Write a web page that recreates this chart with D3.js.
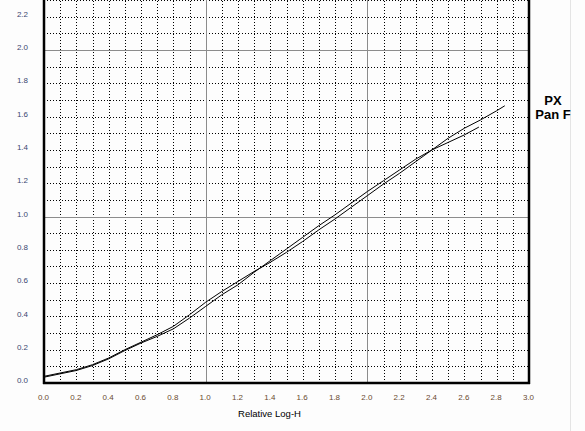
<!DOCTYPE html>
<html>
<head>
<meta charset="utf-8">
<script src="https://cdn.jsdelivr.net/npm/d3@7"></script>
<style>
body { margin: 0; background: #fdfdfd; }
svg { display: block; }
.tick text { font-family: Arial, "Liberation Sans", sans-serif; font-size: 8px; }
.x.labels .tick text { fill: #6a4a30; }
.y.labels .tick text { fill: #3a4670; }
.minor line { stroke: #000; stroke-dasharray: 1,2; shape-rendering: crispEdges; }
.major line { stroke: #8c8c8c; shape-rendering: crispEdges; }
.domain { display: none; }
.curve { fill: none; stroke: #000; stroke-width: 1; }
</style>
</head>
<body>
<svg id="vis-svg" width="585" height="431"></svg>
<script>

// Data
var logH  = [0, 0.1, 0.2, 0.3, 0.4, 0.5, 0.6, 0.7, 0.8, 0.9, 1.0, 1.1, 1.2, 1.3, 1.4, 1.5, 1.6, 1.7, 1.8, 1.9, 2.0, 2.1, 2.2, 2.3, 2.4, 2.5, 2.55, 2.6, 2.7, 2.8, 2.85];
var curveA = [0.04, 0.06, 0.08, 0.11, 0.15, 0.20, 0.245, 0.29, 0.34, 0.41, 0.485, 0.55, 0.61, 0.67, 0.725, 0.785, 0.85, 0.92, 0.985, 1.055, 1.125, 1.195, 1.26, 1.33, 1.40, 1.47, 1.50, 1.53, 1.58, 1.635, 1.665];

var logHB = [0, 0.1, 0.2, 0.3, 0.4, 0.5, 0.6, 0.7, 0.8, 0.9, 1.0, 1.1, 1.2, 1.3, 1.4, 1.5, 1.6, 1.7, 1.8, 1.9, 2.0, 2.1, 2.2, 2.3, 2.4, 2.5, 2.6, 2.69];
var curveB = [0.035, 0.055, 0.075, 0.105, 0.145, 0.195, 0.24, 0.28, 0.325, 0.39, 0.46, 0.53, 0.59, 0.665, 0.735, 0.805, 0.875, 0.945, 1.01, 1.08, 1.15, 1.215, 1.28, 1.345, 1.40, 1.445, 1.49, 1.537];

var xTicks = [0, 0.2, 0.4, 0.6, 0.8, 1.0, 1.2, 1.4, 1.6, 1.8, 2.0, 2.2, 2.4, 2.6, 2.8, 3.0];
var yTicks = [0, 0.2, 0.4, 0.6, 0.8, 1.0, 1.2, 1.4, 1.6, 1.8, 2.0, 2.2];
var majorTicks = [1, 2];
var names = ['PX', 'Pan F'];

var svg = d3.select('#vis-svg');

// Bounds
var plotLeft = 44, plotRight = 529, plotTop = 0, plotBottom = 383;

var x = d3.scaleLinear().domain([0, 3]).range([plotLeft, plotRight]);
var y = d3.scaleLinear().domain([0, 2.3]).range([plotBottom, plotBottom - 2.3 * 166.5]);

var minorX = d3.range(1, 30).map(function(i){ return i / 10; }).filter(function(v){ return Math.abs(v - Math.round(v)) > 0.01; });
var minorY = d3.range(1, 24).map(function(i){ return i / 10; }).filter(function(v){ return Math.abs(v - Math.round(v)) > 0.01; });

// Minor dotted grid
svg.append('g')
  .attr('class', 'minor')
  .attr('transform', 'translate(0,' + plotBottom + ')')
  .call(d3.axisBottom(x).tickValues(minorX).tickSize(-(plotBottom - plotTop)).tickFormat(''));
svg.append('g')
  .attr('class', 'minor')
  .attr('transform', 'translate(' + plotLeft + ',0)')
  .call(d3.axisLeft(y).tickValues(minorY).tickSize(-(plotRight - plotLeft)).tickFormat(''));

// Major grid
svg.append('g')
  .attr('class', 'major')
  .attr('transform', 'translate(0,' + plotBottom + ')')
  .call(d3.axisBottom(x).tickValues(majorTicks).tickSize(-(plotBottom - plotTop)).tickFormat(''));
svg.append('g')
  .attr('class', 'major')
  .attr('transform', 'translate(' + plotLeft + ',0)')
  .call(d3.axisLeft(y).tickValues(majorTicks).tickSize(-(plotRight - plotLeft)).tickFormat(''));

// Tick labels
svg.append('g')
  .attr('class', 'x labels')
  .attr('transform', 'translate(-1,' + plotBottom + ')')
  .call(d3.axisBottom(x).tickValues(xTicks).tickSize(0).tickPadding(11).tickFormat(d3.format('.1f')));
var yAxis = svg.append('g')
  .attr('class', 'y labels')
  .attr('transform', 'translate(' + (plotLeft - 16) + ',0)')
  .call(d3.axisLeft(y).tickValues(yTicks).tickSize(0).tickPadding(0).tickFormat(d3.format('.1f')));
yAxis.selectAll('.tick text').attr('dy', '-0.05em');

// Frame
svg.append('line').attr('x1', plotLeft).attr('x2', plotLeft).attr('y1', 0).attr('y2', plotBottom + 1)
  .attr('stroke', '#000').attr('stroke-width', 2.5);
svg.append('line').attr('x1', plotRight).attr('x2', plotRight).attr('y1', 0).attr('y2', plotBottom + 1)
  .attr('stroke', '#000').attr('stroke-width', 2.5);
svg.append('line').attr('x1', plotLeft - 1).attr('x2', plotRight + 1).attr('y1', plotBottom).attr('y2', plotBottom)
  .attr('stroke', '#000').attr('stroke-width', 2.5);

// window edge
svg.append('line').attr('x1', 570.5).attr('x2', 570.5).attr('y1', 0).attr('y2', 431)
  .attr('stroke', '#e4e4e4');

// Curves
var lineA = d3.line()
  .x(function(d, i){ return x(logH[i]); })
  .y(function(d){ return y(d); });
var lineB = d3.line()
  .x(function(d, i){ return x(logHB[i]); })
  .y(function(d){ return y(d); });

svg.append('path').attr('class', 'curve').attr('d', lineA(curveA));
svg.append('path').attr('class', 'curve').attr('d', lineB(curveB));

// Axis title
svg.append('text')
  .attr('x', (x(0) + x(3)) / 2 - 17)
  .attr('y', 417)
  .attr('text-anchor', 'middle')
  .style('font-family', 'Arial, "Liberation Sans", sans-serif')
  .style('font-size', '9.5px')
  .attr('fill', '#000')
  .text('Relative Log-H');

// Film names
svg.selectAll('.name')
  .data(names)
  .enter().append('text')
  .attr('class', 'name')
  .attr('x', 553)
  .attr('y', function(d, i){ return 105 + i * 14; })
  .attr('text-anchor', 'middle')
  .style('font-family', 'Arial, "Liberation Sans", sans-serif')
  .style('font-size', '13px')
  .style('font-weight', 'bold')
  .text(function(d){ return d; });

</script>
</body>
</html>
